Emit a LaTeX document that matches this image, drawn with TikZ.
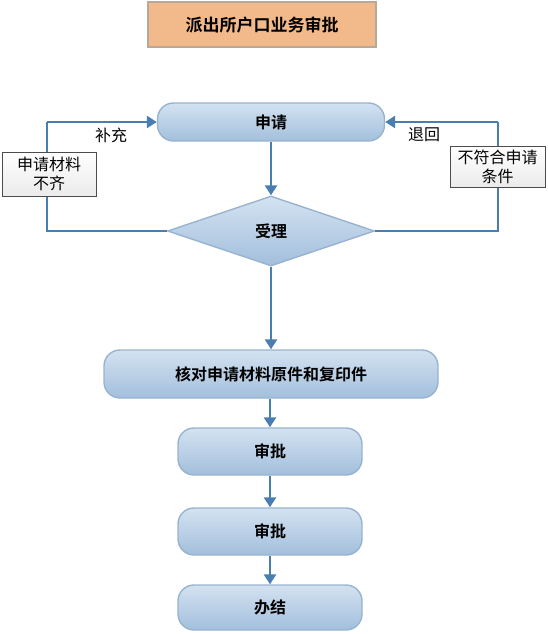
\documentclass[tikz,border=0pt]{standalone}
\usepackage{fontspec}
\newfontfamily\cjk{Noto Sans CJK SC}
\newfontfamily\cjkb{Noto Sans CJK SC Bold}
\usetikzlibrary{shapes.geometric,arrows.meta}
\definecolor{lineblue}{HTML}{4A7EB0}
\definecolor{boxtop}{HTML}{D3E2F1}
\definecolor{boxbot}{HTML}{A3BFDC}
\definecolor{boxedge}{HTML}{98B3CF}
\definecolor{orfill}{HTML}{F2B98A}
\definecolor{oredge}{HTML}{B8A89A}
\tikzset{
  procbox/.style={draw=boxedge, line width=1.4pt, rounded corners=16pt, top color=boxtop, bottom color=boxbot, font=\cjkb\fontsize{16}{18}\selectfont, inner sep=0pt},
  notebox/.style={draw=black!70, line width=0.6pt, top color=white, bottom color=black!8, font=\cjk\fontsize{16}{19}\selectfont, align=center, inner sep=0pt},
  flow/.style={draw=lineblue, line width=2.8pt, -{Triangle[length=10pt,width=12pt]}},
  plain/.style={draw=lineblue, line width=2.8pt},
  lbl/.style={font=\cjk\fontsize{16}{18}\selectfont, inner sep=0pt}
}
\begin{document}
\begin{tikzpicture}[x=1pt,y=-1pt]
\useasboundingbox (0,0) rectangle (548,634);
% title
\node[draw=oredge, line width=1.4pt, fill=orfill, minimum width=228pt, minimum height=45pt, font=\cjkb\fontsize{17}{19}\selectfont, inner sep=0pt] (title) at (262,24.5) {派出所户口业务审批};
% main nodes
\node[procbox, minimum width=227pt, minimum height=38pt] (apply) at (271,122) {申请};
\node[diamond, draw=boxedge, line width=1.4pt, top color=boxtop, bottom color=boxbot, minimum width=207pt, minimum height=70pt, aspect=2.96, inner sep=0pt, font=\cjkb\fontsize{16}{18}\selectfont] (accept) at (271,231) {受理};
\node[procbox, minimum width=334pt, minimum height=48pt] (check) at (271,374) {核对申请材料原件和复印件};
\node[procbox, minimum width=184pt, minimum height=47pt] (appr1) at (270,451.5) {审批};
\node[procbox, minimum width=184pt, minimum height=47pt] (appr2) at (270,531.5) {审批};
\node[procbox, minimum width=184pt, minimum height=45pt] (done) at (270,607.5) {办结};
% loops
\coordinate (lc1) at (47,231);
\coordinate (lc2) at (47,122);
\coordinate (rc1) at (498,231);
\coordinate (rc2) at (498,122);
\draw[plain] (accept.west) -- (lc1) -- (lc2);
\draw[flow] (lc2) -- (apply.west);
\draw[plain] (accept.east) -- (rc1) -- (rc2);
\draw[flow] (rc2) -- (apply.east);
\node[notebox, minimum width=94pt, minimum height=44pt] (lack) at (49,174) {申请材料\\不齐};
\node[notebox, minimum width=95pt, minimum height=41pt] (unfit) at (497.5,166.5) {不符合申请\\条件};
\node[lbl] (supp) at (111,135) {补充};
\node[lbl] (ret) at (424,135) {退回};
% vertical flow
\draw[flow] (apply.south) -- (accept.north);
\draw[flow] (accept.south) -- (check.north);
\draw[flow] (check.south -| appr1.north) -- (appr1.north);
\draw[flow] (appr1.south) -- (appr2.north);
\draw[flow] (appr2.south) -- (done.north);
\end{tikzpicture}
\end{document}
